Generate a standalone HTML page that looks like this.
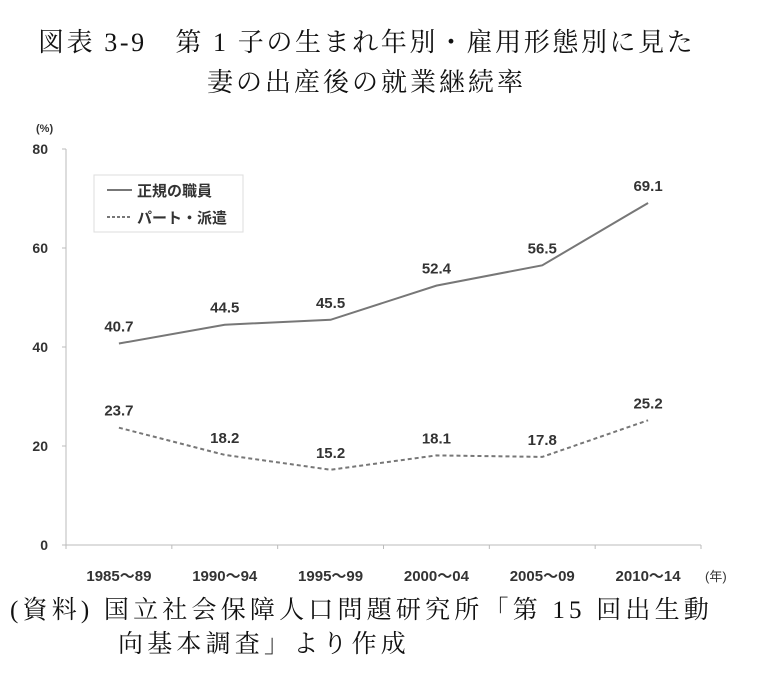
<!DOCTYPE html>
<html><head><meta charset="utf-8"><style>
body{margin:0;background:#fff;width:761px;height:680px;overflow:hidden;position:relative;font-family:"Liberation Serif","Noto Serif CJK SC",serif;}
.t{position:absolute;white-space:nowrap;color:#111;}
</style></head><body>
<div class="t" style="left:38px;top:22px;font-size:26px;letter-spacing:2.6px;">図表 3-9　第 1 子の生まれ年別・雇用形態別に見た</div>
<div class="t" style="left:207px;top:62px;font-size:26px;letter-spacing:3px;">妻の出産後の就業継続率</div>
<svg width="761" height="680" style="position:absolute;left:0;top:0">
<g id="g" font-family="Liberation Sans, Noto Sans CJK JP, sans-serif"></g>
</svg>
<div class="t" style="left:10px;top:590px;font-size:25px;letter-spacing:4.2px;">(資料)  国立社会保障人口問題研究所「第 15 回出生動</div>
<div class="t" style="left:118px;top:624px;font-size:25px;letter-spacing:4.2px;">向基本調査」より作成</div>
<script>
const categories=["1985～89","1990～94","1995～99","2000～04","2005～09","2010～14"];
const regular=[40.7,44.5,45.5,52.4,56.5,69.1];
const part=[23.7,18.2,15.2,18.1,17.8,25.2];
const yTicks=[0,20,40,60,80];
const NS="http://www.w3.org/2000/svg",g=document.getElementById('g');
const x0=66,x1=701,y0=545,y1=149;
const bw=(x1-x0)/categories.length;
const X=i=>x0+bw*(i+0.5), Y=v=>y0-(v/80)*(y0-y1);
function mk(t,a,txt){const e=document.createElementNS(NS,t);for(const k in a)e.setAttribute(k,a[k]);if(txt!=null)e.textContent=txt;g.appendChild(e);return e;}
let e=mk('line',{x1:x0,y1:y0,x2:x0,y2:y1,stroke:'#bbb'});

e=mk('line',{x1:x0,y1:y0,x2:x1,y2:y0,stroke:'#bbb'});

yTicks.forEach(v=>{const t=mk('text',{x:x0-18,y:Y(v)+5,'text-anchor':'end','font-size':14,'font-weight':'bold',fill:'#333'},v);

mk('line',{x1:x0-4,y1:Y(v),x2:x0,y2:Y(v),stroke:'#bbb'});});
e=mk('text',{x:36,y:132,'font-size':11,'font-weight':'bold',fill:'#333'},'(%)');

categories.forEach((c,i)=>{mk('line',{x1:x0+bw*i,y1:y0,x2:x0+bw*i,y2:y0+4,stroke:'#bbb'});
const t=mk('text',{x:X(i),y:y0+36,'text-anchor':'middle','font-size':15,'font-weight':'bold',fill:'#333'},c);
});
mk('line',{x1:x1,y1:y0,x2:x1,y2:y0+4,stroke:'#bbb'});
e=mk('text',{x:705,y:y0+36,'font-size':13,fill:'#333'},'(年)');

function series(d,name,dash){const p=mk('polyline',{points:d.map((v,i)=>X(i)+','+Y(v)).join(' '),fill:'none',stroke:'#777','stroke-width':2,'stroke-dasharray':dash});

d.forEach((v,i)=>{const t=mk('text',{x:X(i),y:Y(v)-12,'text-anchor':'middle','font-size':15,'font-weight':'bold',fill:'#333'},v.toFixed(1));
});}
series(regular,'line-regular','none');
series(part,'line-part-time','4,3');
e=mk('rect',{x:94,y:175,width:149,height:57,fill:'#fff',stroke:'#ddd'});

mk('line',{x1:107,y1:190,x2:132,y2:190,stroke:'#777','stroke-width':2});
e=mk('text',{x:137,y:196,'font-size':15,'font-weight':'bold',fill:'#333'},'正規の職員');

mk('line',{x1:107,y1:217,x2:132,y2:217,stroke:'#777','stroke-width':2,'stroke-dasharray':'3,2'});
e=mk('text',{x:137,y:223,'font-size':15,'font-weight':'bold',fill:'#333'},'パート・派遣');

</script>
</body></html>
